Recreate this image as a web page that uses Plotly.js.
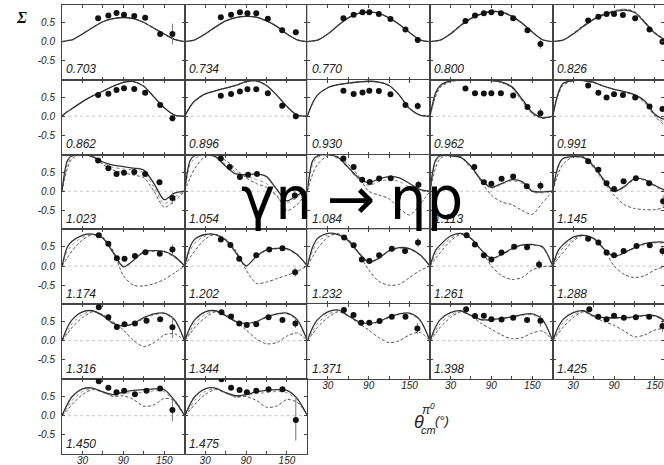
<!DOCTYPE html>
<html><head><meta charset="utf-8">
<script src="https://cdn.plot.ly/plotly-3.0.1.min.js"></script>
<style>html,body{margin:0;padding:0;background:#fff}#g{width:664px;height:465px}</style>
</head><body><div id="g"></div>
<script>
// ---- data ----
const energies = ['0.703','0.734','0.770','0.800','0.826',
  '0.862','0.896','0.930','0.962','0.991',
  '1.023','1.054','1.084','1.113','1.145',
  '1.174','1.202','1.232','1.261','1.288',
  '1.316','1.344','1.371','1.398','1.425',
  '1.450','1.475'];
const angles = [0,8,15,30,45,60,75,90,105,120,135,150,165,180];
const solid = [
 [0,0.03,0.05,0.2,0.37,0.52,0.6,0.63,0.6,0.5,0.35,0.2,0.06,0],
 [0,0.02,0.05,0.2,0.38,0.54,0.63,0.66,0.64,0.54,0.4,0.2,0.05,0],
 [0,0.02,0.04,0.2,0.42,0.62,0.74,0.77,0.74,0.62,0.45,0.24,0.05,0],
 [0,0.02,0.04,0.2,0.42,0.6,0.72,0.78,0.77,0.66,0.48,0.25,0.05,0],
 [0,0.02,0.04,0.2,0.4,0.58,0.7,0.78,0.82,0.76,0.5,0.22,0.05,0],
 [0,0.12,0.2,0.38,0.53,0.65,0.78,0.88,0.9,0.78,0.5,0.22,0.03,0],
 [0,0.25,0.4,0.58,0.66,0.73,0.8,0.9,0.92,0.8,0.55,0.25,0.03,0],
 [0,0.35,0.55,0.74,0.82,0.86,0.89,0.91,0.89,0.8,0.55,0.2,0.03,0],
 [0,0.6,0.8,0.92,0.94,0.95,0.94,0.93,0.89,0.77,0.45,0.1,-0.04,0],
 [0,0.6,0.85,0.93,0.93,0.88,0.78,0.7,0.64,0.56,0.4,0.05,-0.08,0],
 [0,0.8,0.93,0.95,0.9,0.76,0.68,0.64,0.6,0.55,0.2,-0.22,-0.05,0],
 [0,0.8,0.93,0.95,0.9,0.65,0.45,0.43,0.45,0.38,0.05,-0.25,-0.1,0],
 [0,0.8,0.92,0.95,0.88,0.62,0.35,0.22,0.32,0.38,0.35,0.2,0.05,0],
 [0,0.8,0.93,0.92,0.88,0.65,0.3,0.1,0.2,0.3,0.25,0.0,-0.02,0],
 [0,0.65,0.85,0.9,0.88,0.65,0.3,0.0,0.12,0.33,0.3,0.15,0.03,0],
 [0,0.5,0.65,0.8,0.83,0.72,0.35,-0.02,0.15,0.37,0.4,0.38,0.25,0],
 [0,0.5,0.7,0.82,0.82,0.68,0.35,0.0,0.25,0.42,0.46,0.45,0.3,0],
 [0,0.5,0.72,0.85,0.82,0.66,0.35,0.1,0.2,0.4,0.48,0.45,0.3,0],
 [0,0.4,0.55,0.78,0.85,0.72,0.42,0.2,0.3,0.45,0.55,0.56,0.5,0],
 [0,0.4,0.55,0.75,0.8,0.72,0.45,0.25,0.35,0.48,0.58,0.62,0.6,0],
 [0,0.35,0.55,0.75,0.78,0.65,0.45,0.38,0.45,0.6,0.7,0.72,0.55,0],
 [0,0.35,0.55,0.75,0.78,0.65,0.5,0.45,0.5,0.62,0.7,0.72,0.55,0],
 [0,0.35,0.55,0.75,0.8,0.65,0.5,0.45,0.5,0.62,0.7,0.72,0.55,0],
 [0,0.35,0.55,0.73,0.78,0.66,0.55,0.55,0.58,0.62,0.68,0.7,0.55,0],
 [0,0.35,0.55,0.73,0.78,0.65,0.6,0.6,0.6,0.62,0.66,0.65,0.5,0],
 [0,0.3,0.5,0.7,0.72,0.62,0.55,0.62,0.66,0.68,0.7,0.68,0.4,0],
 [0,0.3,0.5,0.7,0.72,0.6,0.52,0.55,0.62,0.66,0.68,0.66,0.45,0]
];
const dashed = [
 [0,0.03,0.05,0.2,0.37,0.52,0.6,0.63,0.6,0.5,0.35,0.2,0.06,0],
 [0,0.02,0.05,0.2,0.38,0.54,0.63,0.66,0.64,0.54,0.4,0.2,0.05,0],
 [0,0.02,0.04,0.2,0.42,0.62,0.74,0.77,0.74,0.62,0.45,0.24,0.05,0],
 [0,0.02,0.04,0.21,0.43,0.61,0.73,0.79,0.78,0.67,0.49,0.26,0.05,0],
 [0,0.02,0.04,0.21,0.41,0.59,0.72,0.8,0.84,0.78,0.52,0.23,0.05,0],
 [0,0.12,0.2,0.38,0.53,0.65,0.78,0.88,0.9,0.78,0.5,0.22,0.03,0],
 [0,0.25,0.4,0.58,0.66,0.73,0.8,0.9,0.92,0.8,0.55,0.25,0.03,0],
 [0,0.35,0.55,0.74,0.82,0.86,0.89,0.91,0.89,0.8,0.55,0.2,0.03,0],
 [0,0.5,0.75,0.9,0.93,0.94,0.94,0.93,0.88,0.74,0.4,0.06,-0.06,0],
 [0,0.55,0.8,0.92,0.93,0.88,0.78,0.7,0.63,0.54,0.35,0.0,-0.22,0],
 [0,0.6,0.85,0.95,0.9,0.7,0.55,0.48,0.42,0.35,0.0,-0.42,-0.25,0],
 [0,0.35,0.6,0.9,0.93,0.8,0.58,0.35,0.2,0.1,-0.1,-0.5,-0.35,0],
 [0,0.45,0.7,0.92,0.9,0.7,0.4,0.0,-0.1,-0.2,-0.45,-0.62,-0.35,0],
 [0,0.6,0.85,0.95,0.9,0.65,0.25,-0.1,-0.28,-0.35,-0.5,-0.6,-0.3,0],
 [0,0.45,0.7,0.9,0.9,0.68,0.25,-0.1,-0.35,-0.45,-0.48,-0.48,-0.4,0],
 [0,0.22,0.4,0.68,0.82,0.75,0.4,-0.25,-0.5,-0.52,-0.46,-0.35,-0.18,0],
 [0,0.22,0.4,0.7,0.82,0.7,0.4,-0.1,-0.45,-0.42,-0.33,-0.24,-0.14,0],
 [0,0.25,0.45,0.75,0.84,0.7,0.35,-0.1,-0.4,-0.5,-0.48,-0.3,-0.12,0],
 [0,0.2,0.35,0.65,0.82,0.7,0.42,0.0,-0.25,-0.35,-0.3,-0.1,-0.02,0],
 [0,0.2,0.35,0.65,0.8,0.72,0.45,0.0,-0.22,-0.3,-0.25,-0.1,-0.02,0],
 [0,0.18,0.35,0.6,0.75,0.68,0.5,0.28,0.0,-0.15,-0.05,0.15,0.18,0],
 [0,0.18,0.35,0.6,0.75,0.68,0.5,0.28,0.05,-0.08,-0.05,0.12,0.2,0],
 [0,0.18,0.35,0.6,0.75,0.65,0.45,0.28,0.08,-0.05,0.0,0.15,0.22,0],
 [0,0.18,0.35,0.6,0.75,0.65,0.45,0.3,0.15,0.05,0.08,0.2,0.25,0],
 [0,0.18,0.35,0.6,0.75,0.62,0.5,0.4,0.25,0.1,0.15,0.28,0.3,0],
 [0,0.15,0.3,0.55,0.68,0.62,0.5,0.52,0.42,0.25,0.28,0.45,0.4,0],
 [0,0.15,0.3,0.55,0.68,0.6,0.48,0.5,0.4,0.22,0.25,0.42,0.35,0]
];
const dotted = [
 [0,0.03,0.05,0.2,0.37,0.52,0.6,0.63,0.6,0.5,0.35,0.2,0.06,0],
 [0,0.02,0.05,0.2,0.38,0.54,0.63,0.66,0.64,0.54,0.4,0.2,0.05,0],
 [0,0.02,0.04,0.2,0.42,0.62,0.74,0.77,0.74,0.62,0.45,0.24,0.05,0],
 [0,0.02,0.04,0.22,0.44,0.62,0.74,0.8,0.79,0.68,0.5,0.27,0.06,0],
 [0,0.02,0.04,0.22,0.42,0.6,0.73,0.81,0.85,0.79,0.53,0.24,0.06,0],
 [0,0.12,0.2,0.38,0.53,0.65,0.78,0.88,0.9,0.78,0.5,0.22,0.03,0],
 [0,0.25,0.4,0.58,0.66,0.73,0.8,0.9,0.92,0.8,0.55,0.25,0.03,0],
 [0,0.35,0.55,0.74,0.82,0.86,0.89,0.91,0.89,0.8,0.55,0.2,0.03,0],
 [0,0.55,0.78,0.91,0.94,0.95,0.94,0.93,0.88,0.75,0.42,0.08,-0.05,0],
 [0,0.58,0.83,0.92,0.93,0.88,0.78,0.7,0.63,0.55,0.37,0.02,-0.15,0],
 [0,0.7,0.9,0.95,0.88,0.72,0.62,0.58,0.55,0.48,0.1,-0.32,-0.15,0],
 [0,0.7,0.85,0.95,0.9,0.7,0.5,0.4,0.3,0.2,-0.15,-0.3,-0.15,0],
 [0,0.7,0.88,0.95,0.85,0.6,0.3,0.15,0.25,0.3,0.25,0.1,0.0,0],
 [0,0.75,0.9,0.93,0.88,0.6,0.28,0.08,0.18,0.27,0.2,-0.02,-0.05,0],
 [0,0.6,0.85,0.9,0.86,0.6,0.25,-0.02,0.1,0.3,0.28,0.12,0.0,0],
 [0,0.4,0.55,0.75,0.82,0.73,0.38,0.0,0.15,0.35,0.38,0.36,0.22,0],
 [0,0.4,0.6,0.78,0.82,0.7,0.37,0.02,0.24,0.4,0.44,0.43,0.28,0],
 [0,0.4,0.62,0.8,0.83,0.68,0.36,0.1,0.2,0.38,0.46,0.43,0.28,0],
 [0,0.3,0.47,0.72,0.84,0.72,0.42,0.2,0.28,0.43,0.53,0.54,0.47,0],
 [0,0.3,0.47,0.7,0.8,0.72,0.45,0.24,0.33,0.46,0.56,0.6,0.57,0],
 [0,0.25,0.45,0.68,0.77,0.66,0.47,0.37,0.43,0.57,0.67,0.7,0.52,0],
 [0,0.25,0.45,0.68,0.77,0.66,0.5,0.44,0.48,0.6,0.68,0.7,0.52,0],
 [0,0.25,0.45,0.68,0.78,0.65,0.5,0.44,0.48,0.6,0.68,0.7,0.52,0],
 [0,0.25,0.45,0.66,0.77,0.66,0.54,0.53,0.56,0.6,0.66,0.68,0.52,0],
 [0,0.25,0.45,0.66,0.77,0.64,0.58,0.58,0.58,0.6,0.64,0.63,0.48,0],
 [0,0.22,0.4,0.63,0.7,0.6,0.52,0.58,0.6,0.6,0.65,0.62,0.35,0],
 [0,0.22,0.4,0.63,0.7,0.58,0.5,0.52,0.58,0.6,0.63,0.6,0.4,0]
];
const ptAngles = [
 [53,68,80,91,106,122,144,162],[53,68,81,92,105,122,143,163],[53,68,81,91,105,122,144,162],
 [52,66,79,90,104,122,143,162],[52,67,79,90,103,121,142,161],
 [53,68,80,91,106,122,144,162],[53,68,81,92,105,122,143,163],[53,68,81,91,105,122,144,162],
 [52,66,79,90,104,122,143,162],[52,67,79,90,103,121,142,161],
 [53,68,80,91,106,122,143,162],[53,66,81,93,106,161.5],[53,68,80.5,91.6,105.4,122.4,163],
 [65,79,90,105,122,142,162],[52,67,79,90,104,122,141.5,162],
 [54,68,80.5,91.7,107,122.4,143.4,162],[53,67,80,105,124,143.4,162],[54,68,80,91,105.4,124,143.4,162.4],
 [53.7,65.9,79,90,104.9,123.4,142.4,160],[52,67,79,90,104,123,142.4,161],
 [54,68,80.5,91.7,107,124,144,162],[54,68,80,91,105,123,143.4,162.4],[53.7,67.8,79,91,106,124,144,161.5],
 [53,66,79,90,105,122,142.4,162],[53.7,66.8,79,90,104.4,122,141.5,161],
 [54,68,80,91.2,107,124,144,162],[54,68,80.5,91.2,105,123,143.4,163]
];
const ptValues = [
 [0.61,0.68,0.75,0.70,0.67,0.625,0.2,0.2],[0.635,0.70,0.765,0.74,0.74,0.60,0.30,0.245],
 [0.61,0.70,0.77,0.765,0.72,0.59,0.32,0.045],[0.54,0.68,0.74,0.765,0.74,0.61,0.30,-0.06],
 [0.55,0.65,0.72,0.72,0.695,0.61,0.32,0.0],
 [0.55,0.585,0.68,0.73,0.71,0.61,0.29,-0.055],[0.53,0.58,0.64,0.70,0.70,0.60,0.27,0.0],
 [0.66,0.58,0.62,0.66,0.655,0.57,0.29,0.265],[0.72,0.60,0.59,0.60,0.60,0.54,0.24,0.08],
 [0.80,0.61,0.49,0.57,0.55,0.49,0.25,0.19],
 [0.80,0.60,0.445,0.48,0.50,0.445,0.23,-0.18],[0.85,0.63,0.37,0.43,0.45,-0.11],
 [0.85,0.63,0.30,0.24,0.33,0.34,0.17],[0.63,0.23,0.195,0.325,0.385,0.126,0.14],
 [0.78,0.56,0.21,0.06,0.26,0.34,0.21,-0.26],
 [0.80,0.58,0.20,0.19,0.26,0.36,0.32,0.43],[0.69,0.55,0.19,0.28,0.43,0.46,-0.16],
 [0.74,0.54,0.17,0.13,0.28,0.45,0.39,0.61],[0.80,0.56,0.28,0.17,0.35,0.50,0.49,0.04],
 [0.71,0.61,0.35,0.28,0.39,0.52,0.54,0.39],
 [0.87,0.61,0.36,0.43,0.45,0.52,0.56,0.35],[0.74,0.63,0.45,0.41,0.43,0.61,0.54,0.45],
 [0.80,0.67,0.47,0.47,0.51,0.625,0.625,0.32],[0.82,0.64,0.65,0.56,0.55,0.60,0.54,0.52],
 [0.82,0.625,0.56,0.65,0.6,0.61,0.625,0.38],
 [0.90,0.73,0.61,0.65,0.56,0.65,0.71,0.15],[0.95,0.73,0.67,0.61,0.65,0.69,0.69,-0.11]
];
const ptErrors = [
 [.03,.03,.03,.03,.03,.03,.05,.27],[.03,.03,.03,.03,.03,.03,.04,.08],[.03,.03,.03,.03,.03,.03,.04,.05],
 [.03,.03,.03,.03,.03,.03,.04,.12],[.03,.03,.03,.03,.03,.03,.04,.08],
 [.03,.03,.03,.03,.03,.03,.04,.08],[.03,.03,.03,.03,.03,.03,.04,.08],[.03,.03,.03,.03,.03,.03,.04,.1],
 [.03,.03,.03,.03,.03,.03,.04,.12],[.03,.03,.03,.03,.03,.03,.04,.08],
 [.03,.03,.03,.03,.03,.03,.05,.15],[.03,.03,.03,.03,.03,.12],[.03,.03,.03,.03,.03,.03,.1],
 [.03,.03,.03,.03,.03,.04,.12],[.03,.03,.03,.03,.03,.03,.04,.15],
 [.03,.03,.03,.03,.03,.03,.04,.13],[.03,.03,.03,.03,.03,.04,.12],[.03,.03,.03,.03,.03,.03,.04,.12],
 [.03,.03,.03,.03,.03,.03,.04,.12],[.03,.03,.03,.03,.03,.03,.04,.12],
 [.03,.03,.03,.03,.03,.03,.04,.28],[.03,.03,.03,.03,.03,.03,.04,.12],[.03,.03,.03,.03,.03,.03,.04,.15],
 [.03,.03,.03,.03,.03,.03,.04,.15],[.03,.03,.03,.03,.03,.03,.04,.15],
 [.03,.03,.03,.03,.03,.03,.04,.3],[.03,.03,.03,.03,.03,.03,.04,.54]
];
const yTickVals = [-0.5, 0, 0.5];
const yTickText = ['-0.5', '0.0', '0.5'];
const xTickVals = [30, 60, 90, 120, 150];
const xTickText = ['30', ' ', '90', ' ', '150'];

// ---- layout geometry (pixels) ----
const W = 664, H = 465;
const colLeft = [62, 184.7, 307.3, 430, 552.7];
const colW = 122.7;
const rowEdges = [5, 79.5, 154.5, 229.3, 304, 379, 454];
const zeroOffset = 36.7, pxPerUnit = 38.4;

const traces = [], layout = {
  width: W, height: H, margin: {l:0, r:0, t:0, b:0},
  paper_bgcolor: '#fff', plot_bgcolor: '#fff', showlegend: false,
  annotations: [], shapes: []
};
const sans = 'Liberation Sans, Arial, sans-serif';
const tickFont = {family: sans, size: 10, style: 'italic', color: '#222'};

energies.forEach((en, i) => {
  const r = Math.floor(i / 5), c = i % 5, k = i + 1;
  const sfx = k > 1 ? String(k) : '';
  const L = colLeft[c], R = Math.min(L + colW, W);
  const top = rowEdges[r], bot = rowEdges[r + 1];
  const isBottom = (r === 5) || (r === 4 && c >= 2);
  layout['xaxis' + sfx] = {
    domain: [L / W, R / W], range: [0, (R - L) / colW * 180], anchor: 'y' + sfx,
    showgrid: false, zeroline: false, showline: true, mirror: 'ticks', linecolor: '#444', linewidth: 1,
    ticks: 'inside', ticklen: 3, tickcolor: '#444', tickvals: xTickVals, ticktext: xTickText,
    showticklabels: isBottom, tickfont: tickFont, ticklabelstandoff: -3, fixedrange: true
  };
  layout['yaxis' + sfx] = {
    domain: [1 - bot / H, 1 - top / H],
    range: [-(bot - top - zeroOffset) / pxPerUnit, zeroOffset / pxPerUnit], anchor: 'x' + sfx,
    showgrid: false, zeroline: false, showline: true, mirror: 'ticks', linecolor: '#444', linewidth: 1,
    ticks: 'inside', ticklen: 3, tickcolor: '#444', tickvals: yTickVals, ticktext: yTickText,
    showticklabels: c === 0, tickfont: tickFont, ticklabelstandoff: 4, fixedrange: true
  };
  const xa = 'x' + sfx, ya = 'y' + sfx;
  if (r > 0) {
    layout.shapes.push({type: 'line', xref: xa + ' domain', yref: ya, x0: 0, x1: 1, y0: 0, y1: 0,
      line: {color: '#c4c4c4', width: 1, dash: 'dot'}, layer: 'below'});
  }
  traces.push({x: angles, y: dotted[i], xaxis: xa, yaxis: ya, mode: 'lines', hoverinfo: 'skip',
    line: {color: '#8a8a8a', width: 1, dash: 'dot', shape: 'spline', smoothing: 0.8}});
  traces.push({x: angles, y: dashed[i], xaxis: xa, yaxis: ya, mode: 'lines', hoverinfo: 'skip',
    line: {color: '#555', width: 1, dash: '3px,2px', shape: 'spline', smoothing: 0.8}});
  traces.push({x: angles, y: solid[i], xaxis: xa, yaxis: ya, mode: 'lines', hoverinfo: 'skip',
    line: {color: '#333', width: 1.3, shape: 'spline', smoothing: 0.8}});
  traces.push({x: ptAngles[i], y: ptValues[i], xaxis: xa, yaxis: ya, mode: 'markers', hoverinfo: 'skip',
    marker: {color: '#111', size: 6},
    error_y: {type: 'data', array: ptErrors[i], visible: true, width: 0, thickness: 1, color: '#777'}});
  layout.annotations.push({text: en, xref: xa + ' domain', yref: ya + ' domain', x: 0.02, y: 0.02,
    xanchor: 'left', yanchor: 'bottom', showarrow: false,
    font: {family: sans, size: 12, style: 'italic', color: '#222'}});
});

const ann = layout.annotations;
function paperText(text, x, y, xanchor, font) {
  ann.push({text: text, xref: 'paper', yref: 'paper', x: x / W, y: 1 - y / H, showarrow: false,
    xanchor: xanchor, yanchor: 'middle', font: font});
}
paperText('Σ', 21, 17, 'center', {family: 'Liberation Serif, serif', size: 16, style: 'italic', weight: 'bold', color: '#111'});
paperText('θ', 419, 422, 'center', {family: sans, size: 18, style: 'italic', color: '#222'});
paperText('cm', 419, 430, 'left', {family: sans, size: 11, style: 'italic', color: '#222'});
paperText('π<sup>0</sup>', 420, 409, 'left', {family: sans, size: 12, style: 'italic', color: '#222'});
paperText('(°)', 433, 420, 'left', {family: sans, size: 13, style: 'italic', color: '#222'});
paperText('γn\u2005→\u2005ηp', 352, 199, 'center', {family: 'DejaVu Sans, sans-serif', size: 58, color: '#000'});

Plotly.newPlot('g', traces, layout, {staticPlot: true, displayModeBar: false});
</script></body></html>
